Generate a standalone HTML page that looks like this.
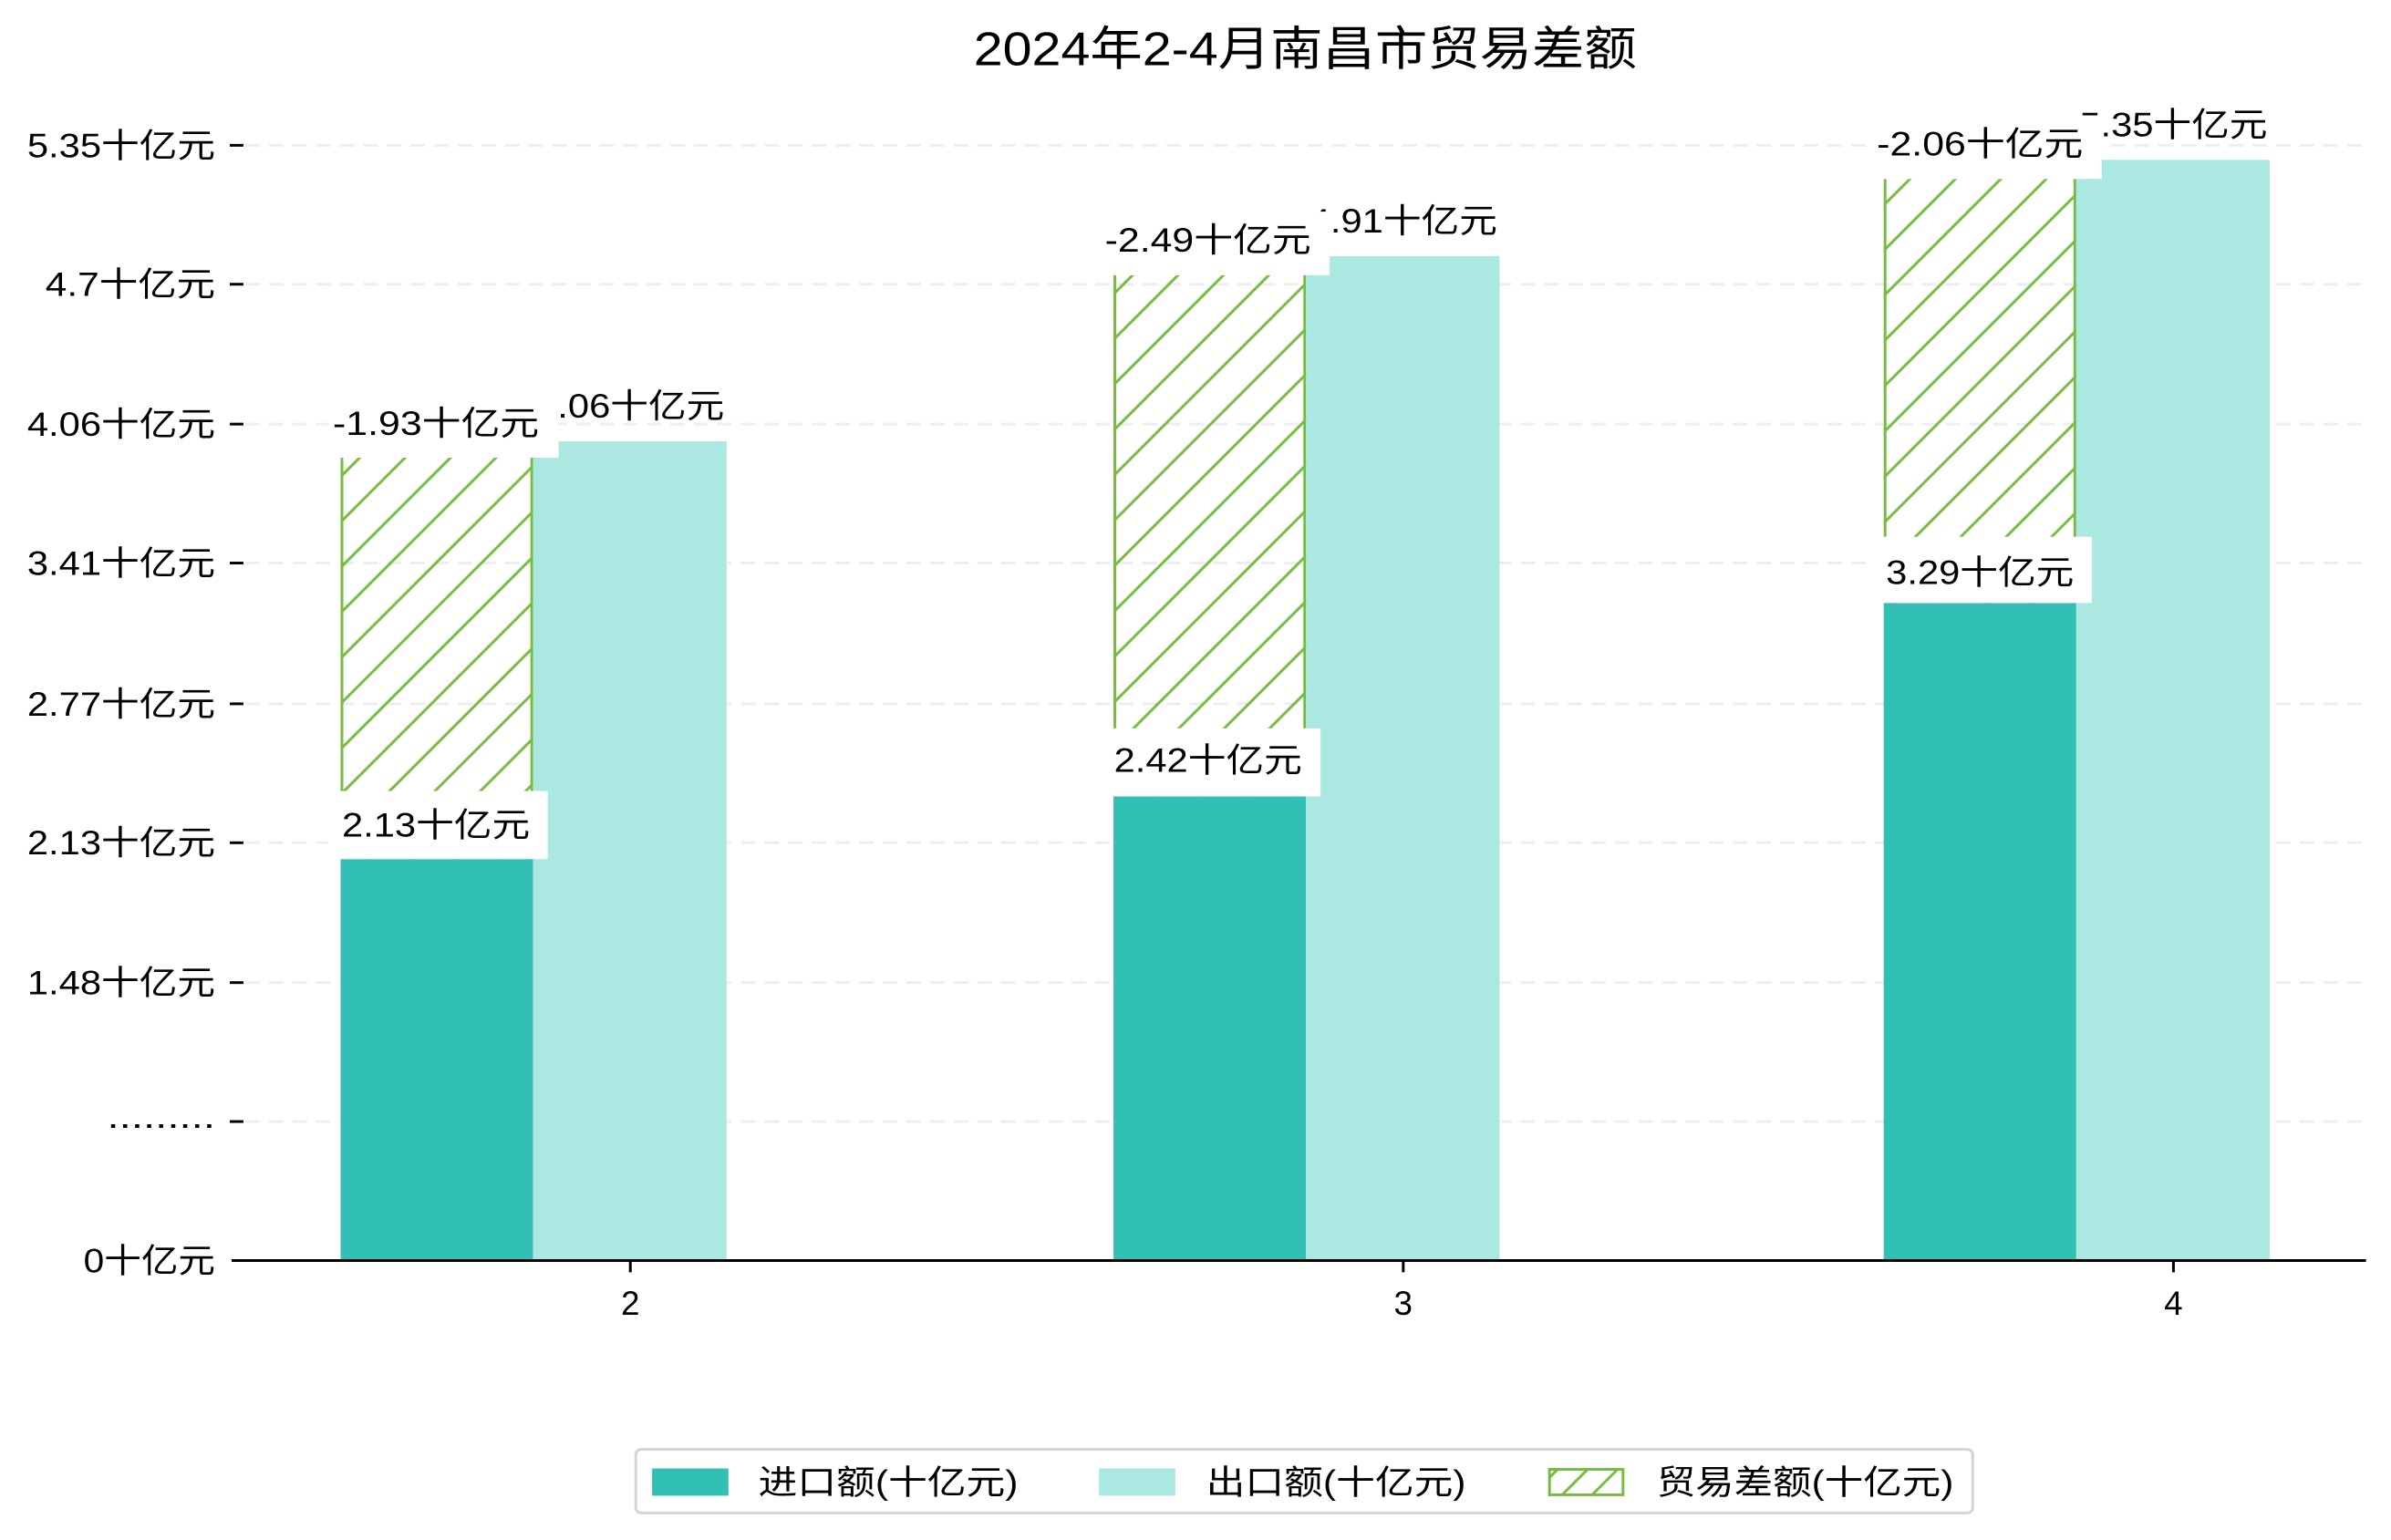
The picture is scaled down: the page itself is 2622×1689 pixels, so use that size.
<!DOCTYPE html>
<html><head><meta charset="utf-8"><style>html,body{margin:0;padding:0;background:#fff}svg{display:block}text{font-family:"Liberation Sans","Noto Sans CJK SC",sans-serif;fill:#000}</style></head>
<body>
<svg width="2622" height="1689" viewBox="0 0 2622 1689" xmlns="http://www.w3.org/2000/svg">
<defs>
<pattern id="h" patternUnits="userSpaceOnUse" width="50" height="50">
<line x1="-5" y1="55" x2="55" y2="-5" stroke="#77bc41" stroke-width="3"/>
<line x1="-30" y1="30" x2="30" y2="-30" stroke="#77bc41" stroke-width="3"/>
<line x1="20" y1="80" x2="80" y2="20" stroke="#77bc41" stroke-width="3"/>
</pattern>
<pattern id="h2" patternUnits="userSpaceOnUse" width="33" height="33">
<line x1="-5" y1="38" x2="38" y2="-5" stroke="#77bc41" stroke-width="3"/>
</pattern>
</defs>
<g transform="scale(0.996)">
<text x="1437" y="72" font-size="52" text-anchor="middle" textLength="730" lengthAdjust="spacingAndGlyphs">2024年2-4月南昌市贸易差额</text>
<g stroke="#eeeeee" stroke-width="3" stroke-dasharray="16,10">
<line x1="270" y1="160" x2="2605" y2="160"/><line x1="270" y1="313" x2="2605" y2="313"/><line x1="270" y1="467" x2="2605" y2="467"/><line x1="270" y1="620" x2="2605" y2="620"/><line x1="270" y1="775" x2="2605" y2="775"/><line x1="270" y1="928" x2="2605" y2="928"/><line x1="270" y1="1082" x2="2605" y2="1082"/><line x1="270" y1="1235" x2="2605" y2="1235"/>
</g>
<g stroke="#000" stroke-width="3">
<line x1="253" y1="160" x2="268" y2="160"/><line x1="253" y1="313" x2="268" y2="313"/><line x1="253" y1="467" x2="268" y2="467"/><line x1="253" y1="620" x2="268" y2="620"/><line x1="253" y1="775" x2="268" y2="775"/><line x1="253" y1="928" x2="268" y2="928"/><line x1="253" y1="1082" x2="268" y2="1082"/><line x1="253" y1="1235" x2="268" y2="1235"/>
</g>
<g font-size="37" text-anchor="end">
<text x="237" y="173" textLength="207" lengthAdjust="spacingAndGlyphs">5.35十亿元</text>
<text x="237" y="326" textLength="187" lengthAdjust="spacingAndGlyphs">4.7十亿元</text>
<text x="237" y="480" textLength="207" lengthAdjust="spacingAndGlyphs">4.06十亿元</text>
<text x="237" y="633" textLength="207" lengthAdjust="spacingAndGlyphs">3.41十亿元</text>
<text x="237" y="788" textLength="207" lengthAdjust="spacingAndGlyphs">2.77十亿元</text>
<text x="237" y="941" textLength="207" lengthAdjust="spacingAndGlyphs">2.13十亿元</text>
<text x="237" y="1095" textLength="207" lengthAdjust="spacingAndGlyphs">1.48十亿元</text>
<text x="237" y="1242" textLength="119" lengthAdjust="spacingAndGlyphs">.........</text>
<text x="237" y="1401" textLength="145" lengthAdjust="spacingAndGlyphs">0十亿元</text>
</g>
<rect x="375" y="504" width="212" height="442" fill="url(#h)"/>
<line x1="376.5" y1="504" x2="376.5" y2="946" stroke="#77bc41" stroke-width="3"/>
<line x1="585.5" y1="504" x2="585.5" y2="946" stroke="#77bc41" stroke-width="3"/>
<rect x="375" y="946" width="212" height="442" fill="#31c0b3"/>
<rect x="587" y="486" width="213" height="902" fill="#aae8e1"/>
<rect x="1226" y="303" width="212" height="574" fill="url(#h)"/>
<line x1="1227.5" y1="303" x2="1227.5" y2="877" stroke="#77bc41" stroke-width="3"/>
<line x1="1436.5" y1="303" x2="1436.5" y2="877" stroke="#77bc41" stroke-width="3"/>
<rect x="1226" y="877" width="212" height="511" fill="#31c0b3"/>
<rect x="1438" y="282" width="213" height="1106" fill="#aae8e1"/>
<rect x="2074" y="197" width="212" height="467" fill="url(#h)"/>
<line x1="2075.5" y1="197" x2="2075.5" y2="664" stroke="#77bc41" stroke-width="3"/>
<line x1="2284.5" y1="197" x2="2284.5" y2="664" stroke="#77bc41" stroke-width="3"/>
<rect x="2074" y="664" width="212" height="724" fill="#31c0b3"/>
<rect x="2286" y="176" width="213" height="1212" fill="#aae8e1"/>
<line x1="255" y1="1388" x2="2605" y2="1388" stroke="#000" stroke-width="3"/>
<g stroke="#000" stroke-width="3"><line x1="694" y1="1388" x2="694" y2="1401"/><line x1="1545" y1="1388" x2="1545" y2="1401"/><line x1="2393" y1="1388" x2="2393" y2="1401"/></g>
<g font-size="37" text-anchor="middle"><text x="694" y="1448">2</text><text x="1545" y="1448">3</text><text x="2393" y="1448">4</text></g>
<g font-size="37" text-anchor="middle">
<text x="694" y="460" textLength="207" lengthAdjust="spacingAndGlyphs">4.06十亿元</text>
<text x="1545" y="256" textLength="207" lengthAdjust="spacingAndGlyphs">4.91十亿元</text>
<text x="2393" y="150" textLength="207" lengthAdjust="spacingAndGlyphs">5.35十亿元</text>
<rect x="361" y="434" width="254" height="70" fill="#fff"/>
<text x="480" y="479" textLength="227" lengthAdjust="spacingAndGlyphs">-1.93十亿元</text>
<rect x="361" y="871" width="242" height="75" fill="#fff"/>
<text x="480" y="921" textLength="207" lengthAdjust="spacingAndGlyphs">2.13十亿元</text>
<rect x="1210" y="233" width="254" height="70" fill="#fff"/>
<text x="1330" y="277" textLength="227" lengthAdjust="spacingAndGlyphs">-2.49十亿元</text>
<rect x="1210" y="802" width="244" height="75" fill="#fff"/>
<text x="1330" y="850" textLength="207" lengthAdjust="spacingAndGlyphs">2.42十亿元</text>
<rect x="2060" y="127" width="254" height="70" fill="#fff"/>
<text x="2180" y="171" textLength="227" lengthAdjust="spacingAndGlyphs">-2.06十亿元</text>
<rect x="2061" y="591" width="242" height="73" fill="#fff"/>
<text x="2180" y="643" textLength="207" lengthAdjust="spacingAndGlyphs">3.29十亿元</text>
</g>
<rect x="700" y="1596" width="1472" height="70" rx="6" fill="#fff" stroke="#d4d4d4" stroke-width="3"/>
<rect x="718" y="1617" width="84" height="30" fill="#31c0b3"/>
<rect x="1210" y="1617" width="84" height="30" fill="#aae8e1"/>
<rect x="1706" y="1618" width="81" height="28" fill="url(#h2)" stroke="#77bc41" stroke-width="3"/>
<g font-size="37">
<text x="835" y="1645" textLength="286" lengthAdjust="spacingAndGlyphs">进口额(十亿元)</text>
<text x="1328" y="1645" textLength="286" lengthAdjust="spacingAndGlyphs">出口额(十亿元)</text>
<text x="1824" y="1645" textLength="327" lengthAdjust="spacingAndGlyphs">贸易差额(十亿元)</text>
</g>
</g>
</svg>
</body></html>
